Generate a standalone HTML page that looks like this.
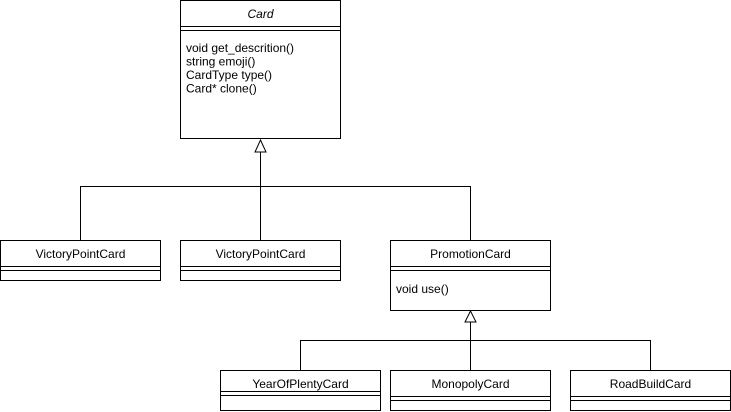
<!DOCTYPE html>
<html><head><meta charset="utf-8"><style>
html,body{margin:0;padding:0;background:#fff;width:731px;height:412px;overflow:hidden}
svg text{font-family:"Liberation Sans",Arial,sans-serif;font-size:12px;fill:#000}
</style></head><body>
<svg width="731" height="412" viewBox="0 0 731 412" xmlns="http://www.w3.org/2000/svg">
<g fill="none" stroke="#000" stroke-width="1" shape-rendering="crispEdges">
<rect x="180.5" y="0.5" width="160" height="138"/>
<line x1="180" y1="26.5" x2="341" y2="26.5"/>
<line x1="180" y1="30.5" x2="341" y2="30.5"/>
<rect x="0.5" y="240.5" width="160" height="40"/>
<line x1="0" y1="266.5" x2="161" y2="266.5"/>
<line x1="0" y1="270.5" x2="161" y2="270.5"/>
<rect x="180.5" y="240.5" width="160" height="40"/>
<line x1="180" y1="266.5" x2="341" y2="266.5"/>
<line x1="180" y1="270.5" x2="341" y2="270.5"/>
<rect x="390.5" y="240.5" width="160" height="70"/>
<line x1="390" y1="266.5" x2="551" y2="266.5"/>
<line x1="390" y1="270.5" x2="551" y2="270.5"/>
<rect x="220.5" y="370.5" width="160" height="40"/>
<line x1="220" y1="391.5" x2="381" y2="391.5"/>
<line x1="220" y1="395.5" x2="381" y2="395.5"/>
<rect x="390.5" y="370.5" width="160" height="40"/>
<line x1="390" y1="396.5" x2="551" y2="396.5"/>
<line x1="390" y1="400.5" x2="551" y2="400.5"/>
<rect x="570.5" y="370.5" width="160" height="40"/>
<line x1="570" y1="396.5" x2="731" y2="396.5"/>
<line x1="570" y1="400.5" x2="731" y2="400.5"/>
<line x1="260.5" y1="152" x2="260.5" y2="240"/>
<line x1="80" y1="186.5" x2="471" y2="186.5"/>
<line x1="80.5" y1="186" x2="80.5" y2="240"/>
<line x1="470.5" y1="186" x2="470.5" y2="240"/>
<line x1="470.5" y1="322" x2="470.5" y2="370"/>
<line x1="300" y1="340.5" x2="651" y2="340.5"/>
<line x1="300.5" y1="340" x2="300.5" y2="370"/>
<line x1="650.5" y1="340" x2="650.5" y2="370"/>
</g>
<polygon points="260.5,140 255,152 266,152" fill="#fff" stroke="#000"/>
<polygon points="470.5,311 465,322 476,322" fill="#fff" stroke="#000"/>
<text x="260.5" y="18" text-anchor="middle" font-style="italic">Card</text>
<text x="186" y="52">void get_descrition()</text>
<text x="186" y="65.5">string emoji()</text>
<text x="186" y="79">CardType type()</text>
<text x="186" y="92.5">Card* clone()</text>
<text x="80.5" y="258" text-anchor="middle">VictoryPointCard</text>
<text x="260.5" y="258" text-anchor="middle">VictoryPointCard</text>
<text x="470.5" y="258" text-anchor="middle">PromotionCard</text>
<text x="396" y="293">void use()</text>
<text x="300.5" y="388" text-anchor="middle">YearOfPlentyCard</text>
<text x="470.5" y="388" text-anchor="middle">MonopolyCard</text>
<text x="650.5" y="388" text-anchor="middle">RoadBuildCard</text>
</svg>
</body></html>
